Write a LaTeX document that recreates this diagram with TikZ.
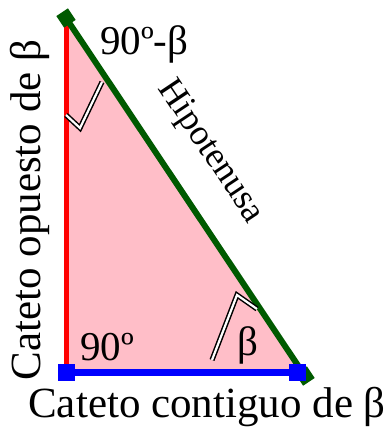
\documentclass[tikz,border=0pt]{standalone}
\usepackage{fontspec}
\setmainfont{Liberation Serif}
\definecolor{trifill}{RGB}{255,190,200}
\definecolor{hypgreen}{RGB}{0,90,0}
\begin{document}
\begin{tikzpicture}[x=1pt,y=-1pt,
  lbl/.style={inner sep=0pt, font=\fontsize{41}{41}\selectfont},
  biglbl/.style={inner sep=0pt, font=\fontsize{43}{43}\selectfont},
  angmark/.style={draw=black, line width=1.5pt, double=white, double distance=2.2pt, line join=miter},
  endsq/.style={fill=blue, minimum size=17pt, inner sep=0pt}]
\useasboundingbox (0,0) rectangle (388,428);
\coordinate (A) at (66,22);
\coordinate (C) at (66,372);
\coordinate (B) at (302,372);
\coordinate (G1) at (66,18);
\coordinate (G2) at (305,376);
% triangle fill
\fill[trifill] (A) -- (C) -- (B) -- cycle;
% opposite leg
\draw[red, line width=5pt] (A) -- (C);
% hypotenuse
\draw[hypgreen, line width=6pt] (G1) -- (G2);
\node[fill=hypgreen, minimum size=14pt, inner sep=0pt, rotate=-56.3] (gm1) at (G1) {};
\node[fill=hypgreen, minimum size=14pt, inner sep=0pt, rotate=-56.3] (gm2) at (G2) {};
% adjacent leg
\coordinate (BL) at (66,372);
\coordinate (BR) at (297,372);
\draw[blue, line width=7pt] (BL) -- (BR);
\node[endsq] (sqL) at (BL) {};
\node[endsq] (sqR) at (BR) {};
% angle marks
\draw[angmark] (66,115) -- (80,128) -- (102,82);
\draw[angmark] (257,309) -- (237,295) -- (212,360);
% labels
\node[lbl, anchor=base west] (t1) at (100,55) {90º-β};
\node[lbl, anchor=base west] (t2) at (80,360) {90º};
\node[lbl, anchor=base] (t3) at (248,355) {β};
\node[inner sep=0pt, font=\fontsize{36}{36}\selectfont, rotate=-56.3] (hyp) at (210,152) {Hipotenusa};
\node[biglbl, rotate=90] (op) at (30,210) {Cateto opuesto de β};
\node[biglbl, anchor=base] (cont) at (207,417) {Cateto contiguo de β};
\end{tikzpicture}
\end{document}
